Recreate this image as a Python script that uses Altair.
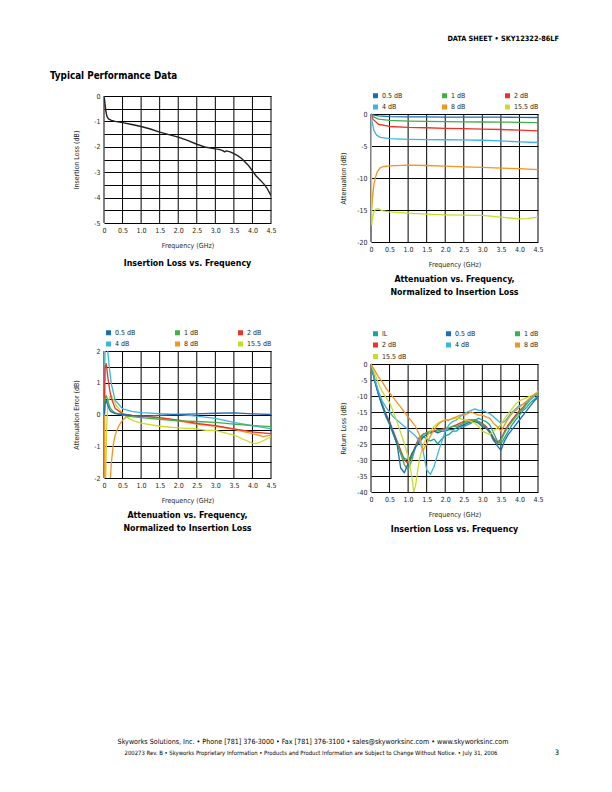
import altair as alt
import pandas as pd

FONT = "Liberation Sans Narrow, DejaVu Sans Condensed, Liberation Sans, sans-serif"
INK = "#231f20"

HEADER_RIGHT = "DATA SHEET  \u2022  SKY12322-86LF"
SECTION_TITLE = "Typical Performance Data"
FOOTER_1 = ("Skyworks Solutions, Inc.  \u2022  Phone [781] 376-3000  \u2022  Fax [781] 376-3100  "
            "\u2022  sales@skyworksinc.com  \u2022  www.skyworksinc.com")
FOOTER_2 = ("200273 Rev. B  \u2022  Skyworks Proprietary Information  \u2022  Products and Product "
            "Information are Subject to Change Without Notice.  \u2022  July 31, 2006")
PAGE_NUMBER = "3"

X_TICKS = [0.0, 0.5, 1.0, 1.5, 2.0, 2.5, 3.0, 3.5, 4.0, 4.5]

SERIES = ["0.5 dB", "1 dB", "2 dB", "4 dB", "8 dB", "15.5 dB"]
COLORS = ["#1c6cb6", "#40b04a", "#ee3224", "#3cb4e8", "#f7931e", "#c9dc2a"]
RL_SERIES = ["IL", "0.5 dB", "1 dB", "2 dB", "4 dB", "8 dB", "15.5 dB"]
RL_COLORS = ["#13a89e", "#1c6cb6", "#40b04a", "#ee3224", "#3cb4e8", "#f7931e", "#c9dc2a"]

# ---- Insertion loss vs frequency
IL_F = [0.0, 0.01, 0.03, 0.05, 0.08, 0.12, 0.2, 0.3, 0.5, 0.75, 1.0, 1.25, 1.5, 1.75, 2.0,
        2.25, 2.5, 2.75, 3.0, 3.1, 3.2, 3.25, 3.3, 3.4, 3.5, 3.6, 3.7, 3.8, 3.9, 4.0, 4.1,
        4.2, 4.3, 4.4, 4.5]
IL_DB = [-0.02, -0.1, -0.35, -0.6, -0.8, -0.9, -0.96, -1.0, -1.05, -1.12, -1.2, -1.3, -1.42,
         -1.52, -1.62, -1.75, -1.9, -2.02, -2.08, -2.1, -2.15, -2.2, -2.16, -2.2, -2.27, -2.35,
         -2.45, -2.6, -2.75, -2.95, -3.15, -3.3, -3.45, -3.65, -3.92]

# ---- Attenuation vs frequency (normalized)
ATT_F = [0.0, 0.05, 0.2, 0.5, 1.0, 1.5, 2.0, 2.5, 3.0, 3.5, 4.0, 4.5]
ATT_05 = [0.0, -0.15, -0.3, -0.4, -0.45, -0.45, -0.48, -0.5, -0.5, -0.5, -0.52, -0.55]
ATT_1 = [0.0, -0.4, -0.8, -1.0, -1.1, -1.15, -1.2, -1.22, -1.25, -1.27, -1.3, -1.35]
ATT_2 = [0.0, -0.8, -1.6, -1.95, -2.1, -2.15, -2.25, -2.3, -2.35, -2.42, -2.52, -2.65]
ATT_F_4 = [0.0, 0.03, 0.08, 0.15, 0.25, 0.5, 1.0, 1.5, 2.0, 2.5, 3.0, 3.5, 4.0, 4.5]
ATT_4 = [0.0, -1.2, -2.6, -3.3, -3.65, -3.85, -3.95, -4.0, -4.02, -4.05, -4.1, -4.2, -4.35, -4.45]
ATT_F_8 = [0.0, 0.01, 0.02, 0.04, 0.08, 0.12, 0.17, 0.25, 0.35, 0.5, 1.0, 1.5, 2.0, 2.5, 3.0,
           3.5, 4.0, 4.5]
ATT_8 = [-0.3, -8.0, -14.8, -13.2, -11.0, -9.9, -9.0, -8.4, -8.2, -8.1, -8.0, -8.05, -8.15,
         -8.25, -8.35, -8.45, -8.55, -8.7]
ATT_F_155 = [0.0, 0.01, 0.02, 0.04, 0.08, 0.12, 0.18, 0.3, 0.5, 1.0, 1.5, 2.0, 2.5, 3.0, 3.5,
             4.0, 4.2, 4.5]
ATT_155 = [-0.5, -10.0, -17.3, -16.2, -15.3, -14.9, -14.8, -15.1, -15.3, -15.5, -15.65, -15.75,
           -15.8, -15.85, -16.1, -16.4, -16.35, -16.1]

# ---- Attenuation error vs frequency
ERR_F = [0.01, 0.03, 0.06, 0.1, 0.15, 0.2, 0.3, 0.5, 0.75, 1.0, 1.5, 2.0, 2.5, 3.0, 3.5, 4.0, 4.5]
ERR_05 = [0.0, 0.35, 0.45, 0.3, 0.15, 0.08, 0.03, 0.0, -0.03, -0.05, -0.03, 0.0, 0.02, 0.04,
          0.05, 0.02, 0.0]
ERR_1 = [0.0, 0.5, 0.6, 0.45, 0.25, 0.15, 0.05, -0.02, -0.07, -0.1, -0.15, -0.2, -0.22, -0.25,
         -0.3, -0.35, -0.38]
ERR_2 = [0.2, 1.5, 1.6, 1.2, 0.8, 0.5, 0.2, 0.02, -0.03, -0.05, -0.1, -0.18, -0.28, -0.35,
         -0.45, -0.55, -0.6]
ERR_4 = [0.5, 2.3, 2.3, 2.0, 1.4, 0.95, 0.45, 0.18, 0.1, 0.06, 0.03, 0.0, -0.05, -0.12, -0.25,
         -0.35, -0.45]
ERR_F_8 = [0.0, 0.01, 0.02, 0.05, 0.1, 0.17, 0.2, 0.25, 0.3, 0.4, 0.5, 0.6, 0.75, 1.0, 1.5,
           2.0, 2.5, 3.0, 3.5, 4.0, 4.3, 4.5]
ERR_8 = [0.2, 1.5, -2.5, -2.5, -2.5, -2.05, -1.5, -0.95, -0.65, -0.35, -0.18, -0.08, -0.05,
         -0.05, -0.1, -0.2, -0.3, -0.37, -0.47, -0.6, -0.7, -0.65]
ERR_F_155 = [0.0, 0.01, 0.02, 0.04, 0.07, 0.1, 0.15, 0.2, 0.27, 0.35, 0.5, 0.63, 0.8, 1.0, 1.5,
             2.0, 2.5, 2.75, 3.0, 3.5, 3.75, 4.0, 4.1, 4.25, 4.5]
ERR_155 = [0.5, 2.3, -2.5, -2.5, -0.5, 0.3, 0.55, 0.6, 0.42, 0.25, 0.05, -0.1, -0.2, -0.27,
           -0.37, -0.42, -0.45, -0.5, -0.5, -0.65, -0.78, -0.9, -0.92, -0.85, -0.7]

# ---- Return loss vs frequency
RL_F = [0.0, 0.1, 0.2, 0.3, 0.4, 0.5, 0.6, 0.7, 0.8, 0.9, 1.0, 1.1, 1.2, 1.3, 1.4, 1.5, 1.6,
        1.7, 1.8, 1.9, 2.0, 2.1, 2.2, 2.3, 2.4, 2.5, 2.6, 2.7, 2.8, 2.9, 3.0, 3.1, 3.2, 3.3,
        3.4, 3.5, 3.6, 3.7, 3.8, 3.9, 4.0, 4.1, 4.2, 4.3, 4.4, 4.5]
RL_IL = [0, -5.5, -9.5, -13, -16.5, -19, -22, -25, -28, -29.5, -30, -28.5, -26, -24, -22.5,
         -23.5, -24, -23.5, -25, -23.5, -22.5, -22, -21, -21, -20, -19.5, -19, -18.5, -17.5,
         -17, -17.5, -18, -19, -21.5, -24, -25, -23, -21, -19, -17.5, -16, -14.5, -13.5, -12,
         -11, -10]
RL_05 = [0, -5, -9.5, -13, -16, -18.5, -21.5, -25, -32.5, -34, -31, -28, -26, -24.5, -23, -22,
         -21.5, -21, -21.5, -21, -21, -20.5, -20.5, -20, -19.5, -19, -18.5, -18, -18, -18.5,
         -19.5, -20, -21, -23.5, -25.5, -27, -24, -22, -20.5, -19, -17.5, -16, -14.5, -13,
         -11.5, -10.5]
RL_1 = [0, -5, -9, -12.5, -16, -18.5, -21.5, -24.5, -28, -31.5, -33, -30, -26, -23.5, -22,
        -21.5, -21.5, -21, -21, -20.5, -20.5, -20, -19.5, -19.5, -19, -18.5, -18, -18, -17.5,
        -18, -19, -20, -21.5, -24, -25, -24, -21.5, -19.5, -18, -16.5, -15, -14, -12.5, -11,
        -10, -8.5]
RL_2 = [0, -5, -9, -12.5, -15.5, -18, -21, -24, -27, -30, -31, -29, -25.5, -23, -22, -21.5,
        -21, -21, -20.5, -20.5, -20, -20, -19.5, -19, -18.5, -18, -17.5, -17.5, -17.5, -18,
        -18.5, -19.5, -21, -23, -24.5, -23.5, -21, -19, -17.5, -16, -14.5, -13.5, -12, -11,
        -10, -9]
RL_4 = [0, -4.5, -8.5, -11.5, -13.5, -15, -16.5, -17.5, -18.5, -19.5, -20.5, -21.5, -22.5, -24,
        -27, -33, -34.5, -32, -28, -24.5, -21, -19, -18, -17.5, -16.5, -15.5, -15, -14.5, -14,
        -14.5, -14.5, -15, -15.5, -16.5, -17.5, -18.5, -18, -16.5, -15, -14, -13, -12.5, -12,
        -11, -10, -9.5]
RL_8 = [0, -2, -4, -5.5, -7.5, -9, -10.5, -12, -13.5, -15, -16.5, -18, -19.5, -22, -27, -25,
        -22.5, -20.5, -19, -18, -17.5, -17.5, -17, -16.5, -16, -16, -15.5, -15, -15.5, -16, -16,
        -16.5, -17, -18.5, -19.5, -21, -19, -17, -15.5, -14.5, -13.5, -12.5, -11.5, -10.5,
        -9.5, -9]
RL_F_155 = [0.0, 0.1, 0.2, 0.3, 0.4, 0.5, 0.6, 0.7, 0.8, 0.9, 1.0, 1.1, 1.15, 1.2, 1.3, 1.4,
            1.5, 1.6, 1.7, 1.8, 1.9, 2.0, 2.1, 2.2, 2.3, 2.4, 2.5, 2.6, 2.7, 2.8, 2.9, 3.0,
            3.1, 3.2, 3.3, 3.4, 3.5, 3.6, 3.7, 3.8, 3.9, 4.0, 4.1, 4.2, 4.3, 4.4, 4.5]
RL_155 = [0, -3, -6, -8.5, -10.5, -12, -15, -18, -21.5, -25, -29, -35, -40, -38, -30, -25.5,
          -23, -21, -19.5, -18.5, -18, -17.5, -17.5, -17, -17, -17, -17.5, -17.5, -18, -18.5,
          -19.5, -21, -21.5, -22, -21, -20, -19, -17, -15.5, -14, -12.5, -11.5, -11, -10.5,
          -10, -9.5, -8.5]

TITLE_IL = ["Insertion Loss vs. Frequency"]
TITLE_ATT = ["Attenuation vs. Frequency,", "Normalized to Insertion Loss"]


def frame(groups):
    rows = []
    for name, fs, vs in groups:
        for f, v in zip(fs, vs):
            rows.append({"s": name, "f": f, "v": v})
    return pd.DataFrame(rows)


df_il = frame([("IL", IL_F, IL_DB)])
df_att = frame([("0.5 dB", ATT_F, ATT_05), ("1 dB", ATT_F, ATT_1), ("2 dB", ATT_F, ATT_2),
                ("4 dB", ATT_F_4, ATT_4), ("8 dB", ATT_F_8, ATT_8),
                ("15.5 dB", ATT_F_155, ATT_155)])
df_err = frame([("15.5 dB", ERR_F_155, ERR_155), ("8 dB", ERR_F_8, ERR_8), ("4 dB", ERR_F, ERR_4),
                ("2 dB", ERR_F, ERR_2), ("1 dB", ERR_F, ERR_1), ("0.5 dB", ERR_F, ERR_05)])
df_rl = frame([("2 dB", RL_F, RL_2), ("IL", RL_F, RL_IL), ("1 dB", RL_F, RL_1),
               ("0.5 dB", RL_F, RL_05), ("4 dB", RL_F, RL_4), ("15.5 dB", RL_F_155, RL_155),
               ("8 dB", RL_F, RL_8)])
df_xgrid = pd.DataFrame({"f": X_TICKS})

X_LABELS = "datum.value == 0 ? '0' : format(datum.value, '.1f')"
Y_INT_LABELS = "datum.value % 1 == 0 ? toString(datum.value) : ''"
Y_ALL_LABELS = "toString(datum.value)"
PLOT_W = 167


def panel(df, names, colors, ydom, yvals, yexpr, ytitle, title, plot_h, top=0,
          legend_y=None, col_pad=38, title_offset=8, sw=1.3):
    """A panel whose cell is (top + plot_h) tall; the plot occupies the lower plot_h px."""
    cell_h = top + plot_h
    x_scale = alt.Scale(domain=[0, 4.5], nice=False, zero=False)
    x_axis = alt.Axis(values=X_TICKS, labelExpr=X_LABELS, title="Frequency (GHz)",
                      labelPadding=3, titleY=22, titleBaseline="middle", grid=False)
    y_scale = alt.Scale(domain=ydom, nice=False, zero=False, range=[cell_h, top])
    y_axis = alt.Axis(values=yvals, labelExpr=yexpr, title=ytitle, labelPadding=4,
                      titleX=-28, titleBaseline="middle")
    x = alt.X("f:Q", scale=x_scale, axis=x_axis)
    y = alt.Y("v:Q", scale=y_scale, axis=y_axis)
    if legend_y is None:
        leg = None
    else:
        leg = alt.Legend(orient="none", legendX=1, legendY=top + legend_y, columns=3,
                         direction="horizontal", title=None, symbolType="square",
                         symbolSize=25, symbolStrokeWidth=0, symbolOpacity=1, labelOffset=3,
                         columnPadding=col_pad, rowPadding=3.5)
    # vertical grid lines, spanning only the plot's value range
    vgrid = alt.Chart(df_xgrid).mark_rule(color="#000000", strokeWidth=1).encode(
        x=x,
        y=alt.Y(datum=ydom[1], type="quantitative", scale=y_scale, axis=y_axis),
        y2=alt.Y2(datum=ydom[0]))
    base = alt.Chart(df)
    lines = base.mark_line(clip=True, strokeWidth=sw, strokeJoin="round").encode(
        x=x, y=y,
        stroke=alt.Stroke("s:N", scale=alt.Scale(domain=names, range=colors), legend=leg))
    layers = [vgrid, lines]
    if legend_y is not None:
        keys = base.mark_square(opacity=0, clip=True).encode(
            x=x, y=y,
            fill=alt.Fill("s:N", scale=alt.Scale(domain=names, range=colors), legend=leg))
        layers.append(keys)
    return alt.layer(*layers).properties(
        width=PLOT_W, height=cell_h,
        title=alt.TitleParams(title, orient="bottom", anchor="middle", frame="group",
                              offset=title_offset),
    )


def spacer(w, h):
    return alt.Chart(pd.DataFrame({"k": [0]})).mark_point(opacity=0, size=1).encode(
        x=alt.value(4), y=alt.value(4)).properties(width=w, height=h)


def text_layer(txt, x, y, size, weight="normal", align="left"):
    return alt.Chart(pd.DataFrame({"t": [txt]})).mark_text(
        font=FONT, fontSize=size, fontWeight=weight, align=align, baseline="middle",
        color="#000000").encode(x=alt.value(x), y=alt.value(y), text="t:N")


chart1 = panel(df_il, ["IL"], [INK], [-5, 0],
               [-5, -4.5, -4, -3.5, -3, -2.5, -2, -1.5, -1, -0.5, 0], Y_INT_LABELS,
               "Insertion Loss (dB)", TITLE_IL, 127, title_offset=11, sw=1.4)
chart2 = panel(df_att, SERIES, COLORS, [-20, 0], [-20, -15, -10, -5, 0], Y_ALL_LABELS,
               "Attenuation (dB)", TITLE_ATT, 128, top=18, legend_y=-22)
chart3 = panel(df_err, SERIES, COLORS, [-2, 2],
               [-2, -1.5, -1, -0.5, 0, 0.5, 1, 1.5, 2], Y_INT_LABELS,
               "Attenuation Error (dB)", TITLE_ATT, 127, legend_y=-22)
chart4 = panel(df_rl, RL_SERIES, RL_COLORS, [-40, 0],
               [-40, -35, -30, -25, -20, -15, -10, -5, 0], Y_ALL_LABELS,
               "Return Loss (dB)", TITLE_IL, 128, top=13, legend_y=-34)

# header / footer cells sit in the left panel column (its origin is x = 95)
header = alt.layer(
    text_layer(HEADER_RIGHT, 455, 30, 7.3, "bold", "right"),
    text_layer(SECTION_TITLE, -54, 67, 9.8, "bold", "left"),
).properties(width=PLOT_W, height=87)

footer = alt.layer(
    text_layer(FOOTER_1, 209, 250, 7.1, "normal", "center"),
    text_layer(FOOTER_2, 207, 261, 5.9, "normal", "center"),
    text_layer(PAGE_NUMBER, 453, 261, 7.5, "normal", "center"),
).properties(width=PLOT_W, height=10)

cells = [
    spacer(95, 10), header, spacer(100, 10), spacer(PLOT_W, 10),
    spacer(95, 10), chart1, spacer(100, 10), chart2,
    spacer(95, 10), spacer(PLOT_W, 109), spacer(100, 10), spacer(PLOT_W, 10),
    spacer(95, 10), chart3, spacer(100, 10), chart4,
    spacer(95, 10), footer, spacer(100, 10), spacer(PLOT_W, 10),
]

chart = alt.concat(
    *cells, columns=4, spacing=0, bounds="flush", align="each",
).resolve_scale(
    stroke="independent", fill="independent"
).resolve_legend(
    fill="independent", stroke="independent"
).properties(
    padding=0
).configure(font=FONT).configure_view(stroke="transparent").configure_axis(
    grid=True, gridColor="#000000", gridOpacity=1, gridWidth=1, ticks=False, domain=False,
    labelFont=FONT, labelFontSize=7, labelColor=INK, labelFlush=False, labelOverlap=False,
    titleFont=FONT, titleFontSize=7, titleFontWeight="normal", titleColor=INK,
).configure_legend(
    labelFont=FONT, labelFontSize=7, labelColor=INK,
).configure_title(
    font=FONT, fontSize=8.8, fontWeight="bold", color="#000000", lineHeight=13,
)

chart.save("out.html", embed_options={"renderer": "svg", "actions": False})
